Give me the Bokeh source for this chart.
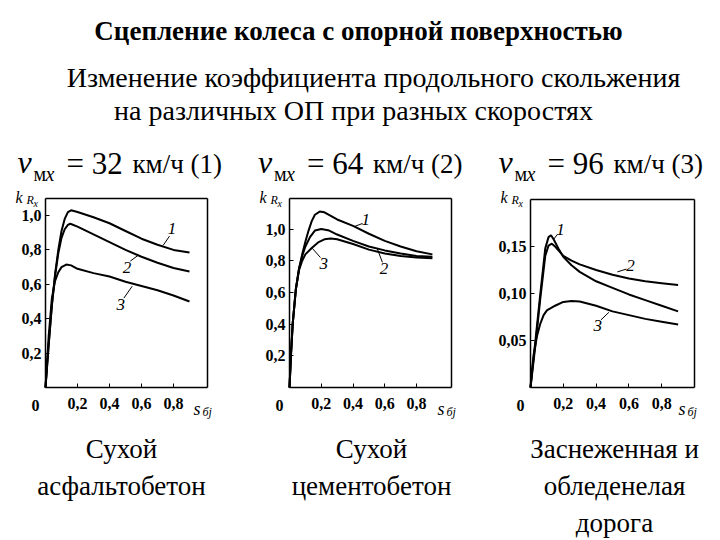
from bokeh.plotting import figure
from bokeh.models import Range1d, FixedTicker, CustomJSTickFormatter, LinearAxis
from bokeh.core.properties import value
from bokeh.embed import file_html
from bokeh.resources import INLINE

FONT = "Liberation Serif"

title = "Сцепление колеса с опорной поверхностью"
subtitle1 = "Изменение коэффициента продольного скольжения"
subtitle2 = "на различных ОП при разных скоростях"
speeds = ["32", "64", "96"]
speed_nums = ["(1)", "(2)", "(3)"]
surfaces = [["Сухой", "асфальтобетон"], ["Сухой", "цементобетон"],
            ["Заснеженная и", "обледенелая", "дорога"]]
x_ticks = [0.2, 0.4, 0.6, 0.8]
y_ticks_p1 = [0.2, 0.4, 0.6, 0.8, 1.0]
y_ticks_p2 = [0.2, 0.4, 0.6, 0.8, 1.0]
y_ticks_p3 = [0.05, 0.10, 0.15]

# Panel 1: dry asphalt, 32 km/h
p1_c1_s = [0, 0.02, 0.04, 0.06, 0.08, 0.10, 0.12, 0.14, 0.16, 0.20, 0.30, 0.40, 0.50, 0.60, 0.70, 0.80, 0.90]
p1_c1_k = [0, 0.25, 0.48, 0.66, 0.80, 0.91, 0.98, 1.02, 1.03, 1.02, 0.99, 0.955, 0.91, 0.865, 0.83, 0.80, 0.785]
p1_c2_s = [0, 0.02, 0.04, 0.06, 0.08, 0.10, 0.12, 0.14, 0.155, 0.20, 0.30, 0.40, 0.50, 0.60, 0.70, 0.80, 0.90]
p1_c2_k = [0, 0.25, 0.48, 0.65, 0.78, 0.87, 0.92, 0.945, 0.952, 0.935, 0.89, 0.845, 0.80, 0.76, 0.725, 0.695, 0.675]
p1_c3_s = [0, 0.02, 0.04, 0.06, 0.08, 0.10, 0.13, 0.16, 0.20, 0.30, 0.40, 0.50, 0.60, 0.70, 0.80, 0.90]
p1_c3_k = [0, 0.30, 0.52, 0.62, 0.67, 0.70, 0.715, 0.71, 0.69, 0.665, 0.645, 0.615, 0.59, 0.565, 0.535, 0.50]

# Panel 2: dry concrete, 64 km/h
p2_c1_s = [0, 0.01, 0.02, 0.04, 0.06, 0.08, 0.10, 0.12, 0.14, 0.16, 0.19, 0.22, 0.30, 0.40, 0.50, 0.60, 0.70, 0.80, 0.90]
p2_c1_k = [0, 0.22, 0.40, 0.62, 0.75, 0.84, 0.92, 0.99, 1.05, 1.09, 1.11, 1.105, 1.06, 1.02, 0.97, 0.925, 0.89, 0.86, 0.84]
p2_c2_s = [0, 0.01, 0.02, 0.04, 0.06, 0.08, 0.10, 0.13, 0.16, 0.20, 0.25, 0.30, 0.40, 0.50, 0.60, 0.70, 0.80, 0.90]
p2_c2_k = [0, 0.22, 0.40, 0.62, 0.75, 0.83, 0.89, 0.95, 0.99, 1.0, 0.99, 0.965, 0.925, 0.89, 0.865, 0.845, 0.83, 0.825]
p2_c3_s = [0, 0.01, 0.02, 0.04, 0.06, 0.08, 0.10, 0.14, 0.18, 0.22, 0.26, 0.30, 0.40, 0.50, 0.60, 0.70, 0.80, 0.90]
p2_c3_k = [0, 0.22, 0.40, 0.62, 0.74, 0.80, 0.84, 0.88, 0.915, 0.935, 0.94, 0.935, 0.905, 0.87, 0.845, 0.83, 0.82, 0.815]

# Panel 3: snow / ice, 96 km/h
p3_c1_s = [0, 0.03, 0.06, 0.09, 0.11, 0.125, 0.14, 0.17, 0.20, 0.25, 0.30, 0.40, 0.50, 0.60, 0.70, 0.80, 0.90]
p3_c1_k = [0, 0.05, 0.10, 0.148, 0.16, 0.162, 0.158, 0.148, 0.139, 0.13, 0.123, 0.113, 0.106, 0.099, 0.093, 0.087, 0.081]
p3_c2_s = [0, 0.03, 0.06, 0.09, 0.11, 0.13, 0.15, 0.18, 0.20, 0.25, 0.30, 0.40, 0.50, 0.60, 0.70, 0.80, 0.90]
p3_c2_k = [0, 0.045, 0.095, 0.14, 0.151, 0.153, 0.15, 0.144, 0.14, 0.135, 0.131, 0.125, 0.12, 0.116, 0.113, 0.111, 0.109]
p3_c3_s = [0, 0.01, 0.02, 0.04, 0.06, 0.08, 0.10, 0.15, 0.20, 0.25, 0.30, 0.40, 0.50, 0.60, 0.70, 0.80, 0.90]
p3_c3_k = [0, 0.02, 0.036, 0.055, 0.068, 0.077, 0.082, 0.087, 0.091, 0.092, 0.0915, 0.087, 0.081, 0.077, 0.073, 0.070, 0.067]

# curve number labels and leader lines (data coordinates)
p1_lbl = dict(t=["1", "2", "3"], x=[0.79, 0.51, 0.47], y=[0.925, 0.70, 0.485],
              x0=[0.775, 0.53, 0.49], y0=[0.88, 0.735, 0.52], x1=[0.735, 0.577, 0.542], y1=[0.826, 0.767, 0.589])
p2_lbl = dict(t=["1", "3", "2"], x=[0.48, 0.216, 0.595], y=[1.062, 0.785, 0.753],
              x0=[0.46, 0.195, 0.585], y0=[1.035, 0.82, 0.79], x1=[0.41, 0.143, 0.553], y1=[1.016, 0.879, 0.875])
p3_lbl = dict(t=["1", "2", "3"], x=[0.183, 0.61, 0.41], y=[0.168, 0.13, 0.066],
              x0=[0.165, 0.585, 0.43], y0=[0.163, 0.126, 0.072], x1=[0.138, 0.53, 0.478], y1=[0.157, 0.123, 0.080])

W, H = 720, 540
OY = 387  # pixel row of the axis origin of every panel
# panel layout: (origin pixel x, px per unit x, px per unit y, x end of box, y end of box)
panels_geom = {
    "p1": (45, 160.0, 172.0, 1.0125, 1.099),
    "p2": (289, 158.8, 158.5, 1.02, 1.1924),
    "p3": (530, 164.0, 940.0, 1.0, 0.2),
}

p = figure(width=W, height=H, x_range=Range1d(0, W), y_range=Range1d(H, 0),
           toolbar_location=None, output_backend="svg", x_axis_location=None,
           y_axis_location=None, min_border=0)
p.grid.grid_line_color = None
p.outline_line_color = None

for name, (ox, sx, sy, xm, ym) in panels_geom.items():
    p.extra_x_ranges[name] = Range1d(-ox / sx, (W - ox) / sx)
    p.extra_y_ranges[name] = Range1d(-(H - OY) / sy, OY / sy)


def txt(x, y, s, size, style="normal", align="center", baseline="alphabetic"):
    p.text(x=[x], y=[y], text=[s], text_font=value(FONT), text_font_size=size,
           text_font_style=style, text_align=align, text_baseline=baseline, text_color="black")


# header
txt(358, 30, title, "27px", "bold")
txt(373, 77, subtitle1, "28px")
txt(353, 110, subtitle2, "28px")
for i in range(3):
    bx = 17 + 240.5 * i
    txt(bx, 161, "v", "32px", "italic", "left")
    txt(bx + 16, 173, "м", "20px", "normal", "left")
    txt(bx + 28, 173, "x", "20px", "italic", "left")
    txt(bx + 49, 163, "= " + speeds[i], "31px", "normal", "left")
    txt(bx + 115, 163, "км/ч " + speed_nums[i], "27px", "normal", "left")

# footer
for cx, lines in zip([121, 371, 614], surfaces):
    for j, s in enumerate(lines):
        txt(cx, 448 + 37 * j, s, "27px")


def panel(name, curves, lbl, yticks, ydec):
    ox, sx, sy, xmax, ymax = panels_geom[name]
    kw = dict(x_range_name=name, y_range_name=name)
    for s, k in curves:
        p.line(s, k, line_color="black", line_width=2, **kw)
    p.segment(x0=lbl["x0"], y0=lbl["y0"], x1=lbl["x1"], y1=lbl["y1"], line_color="black",
              line_width=1, **kw)
    p.text(x=lbl["x"], y=lbl["y"], text=lbl["t"], text_font=value(FONT), text_font_size="17px",
           text_font_style="italic", text_align="center", text_baseline="middle",
           text_color="black", **kw)
    xa = LinearAxis(fixed_location=0, bounds=(0, xmax), ticker=FixedTicker(ticks=x_ticks),
                    formatter=CustomJSTickFormatter(code="return tick.toFixed(1).replace('.', ',');"),
                    major_label_standoff=10, **kw)
    ya = LinearAxis(fixed_location=0, bounds=(0, ymax), ticker=FixedTicker(ticks=yticks),
                    formatter=CustomJSTickFormatter(code="return tick.toFixed(%d).replace('.', ',');" % ydec),
                    major_label_standoff=4, **kw)
    for ax in (xa, ya):
        ax.axis_line_width = 1.5
        ax.axis_line_color = "black"
        ax.major_tick_line_color = "black"
        ax.major_tick_in = 4
        ax.major_tick_out = 0
        ax.minor_tick_line_color = None
        ax.major_label_text_font = FONT
        ax.major_label_text_font_size = "16px"
        ax.major_label_text_font_style = "bold"
        ax.major_label_text_color = "black"
    top = LinearAxis(fixed_location=ymax, bounds=(0, xmax), ticker=FixedTicker(ticks=[]),
                     axis_line_width=1.5, axis_line_color="black", major_tick_line_color=None,
                     minor_tick_line_color=None, major_label_text_font_size="0px", **kw)
    right = LinearAxis(fixed_location=xmax, bounds=(0, ymax), ticker=FixedTicker(ticks=[]),
                       axis_line_width=1.5, axis_line_color="black", major_tick_line_color=None,
                       minor_tick_line_color=None, major_label_text_font_size="0px", **kw)
    p.add_layout(xa, "below")
    p.add_layout(ya, "left")
    p.add_layout(top, "above")
    p.add_layout(right, "right")
    # axis names k_{R_x} and s_{бj}, and the shared origin "0"
    txt(ox - 30, 197, "k", "16px", "italic", "left")
    txt(ox - 19, 199, "R", "12px", "italic", "left")
    txt(ox - 12, 203, "x", "10px", "italic", "left")
    txt(ox + 148, 408, "s", "18px", "italic", "left")
    txt(ox + 157, 411, "б", "12px", "italic", "left")
    txt(ox + 163, 411, "j", "12px", "italic", "left")
    txt(ox - 10, 405, "0", "16px", "bold", "center", "middle")


panel("p1", [(p1_c1_s, p1_c1_k), (p1_c2_s, p1_c2_k), (p1_c3_s, p1_c3_k)], p1_lbl, y_ticks_p1, 1)
panel("p2", [(p2_c1_s, p2_c1_k), (p2_c2_s, p2_c2_k), (p2_c3_s, p2_c3_k)], p2_lbl, y_ticks_p2, 1)
panel("p3", [(p3_c1_s, p3_c1_k), (p3_c2_s, p3_c2_k), (p3_c3_s, p3_c3_k)], p3_lbl, y_ticks_p3, 2)

open("out.html", "w").write(file_html(p, INLINE))
